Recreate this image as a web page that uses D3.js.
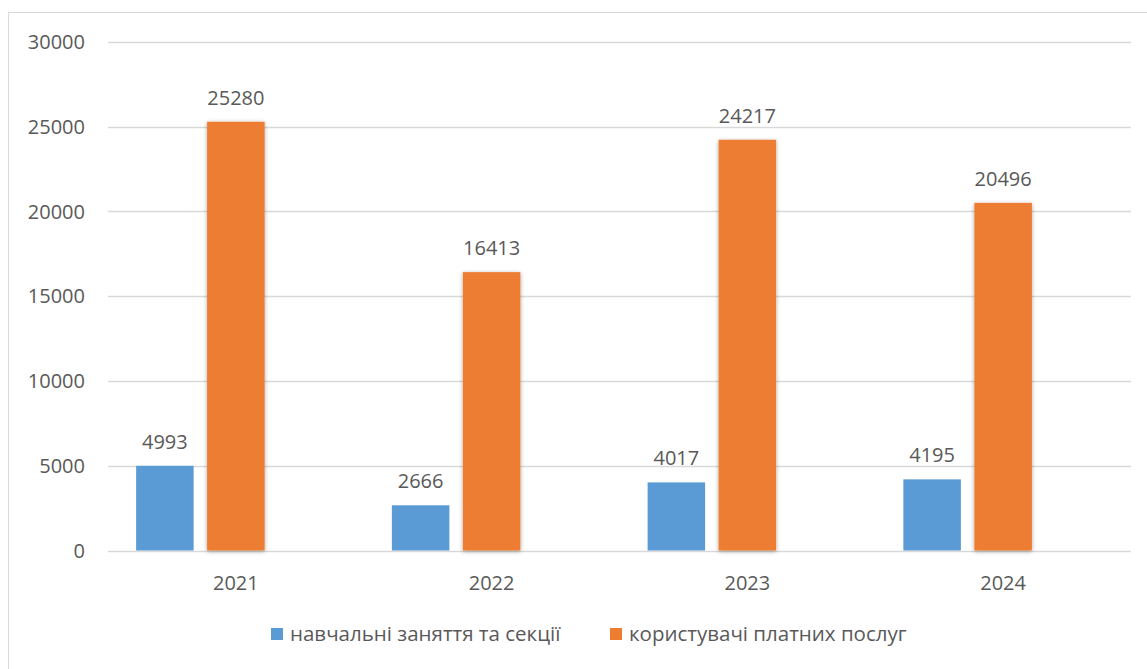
<!DOCTYPE html>
<html><head><meta charset="utf-8">
<script src="https://cdn.jsdelivr.net/npm/d3@7"></script>
<style>body{margin:0;background:#fff}svg{display:block}text{font-family:"Open Sans",sans-serif;fill:#595959}</style>
</head><body><svg id="c" width="1147" height="669"></svg>
<script>
const categories = ["2021","2022","2023","2024"];
const seriesNames = ["навчальні заняття та секції","користувачі платних послуг"];
const studies = [4993,2666,4017,4195];
const paidUsers = [25280,16413,24217,20496];
const yTicks = [0,5000,10000,15000,20000,25000,30000];
const colors = ["#5b9bd5","#ed7d31"];

const svg = d3.select("#c");
const defs = svg.append("defs");
const f = defs.append("filter").attr("id","sh").attr("x","-20%").attr("y","-5%").attr("width","140%").attr("height","110%");
f.append("feGaussianBlur").attr("in","SourceAlpha").attr("stdDeviation",2);
f.append("feOffset").attr("dx",0).attr("dy",1).attr("result","b");
f.append("feComponentTransfer").append("feFuncA").attr("type","linear").attr("slope",0.35);
const m = f.append("feMerge"); m.append("feMergeNode"); m.append("feMergeNode").attr("in","SourceGraphic");

svg.append("rect").attr("x",8.5).attr("y",12.5).attr("width",1145).attr("height",670)
  .attr("fill","none").attr("stroke","#d9d9d9").attr("stroke-width",1);

const x = d3.scaleBand().domain(categories).range([108,1131]).padding(0);
const sub = d3.scaleBand().domain(["a","b","c"]).range([0,x.bandwidth()]).paddingInner(0.19).paddingOuter(0.396);
const y = d3.scaleLinear().domain([0,30000]).range([550.5,41.7]);

svg.append("g").selectAll("line").data(yTicks).join("line")
  .attr("x1",108).attr("x2",1131).attr("y1",d=>Math.round(y(d))+0.5).attr("y2",d=>Math.round(y(d))+0.5)
  .attr("stroke","#d9d9d9").attr("stroke-width",1.5);

svg.append("g").selectAll("text").data(yTicks).join("text")
  .attr("x",85).attr("y",d=>y(d)).attr("dy","0.36em").attr("text-anchor","end")
  .style("font-size","20px").text(d=>d);

const data = [studies, paidUsers];
data.forEach((vals,si)=>{
  const key = ["a","b"][si];
  const g = svg.append("g");
  if(si===1) g.attr("filter","url(#sh)");
  g.selectAll("rect").data(vals).join("rect")
    .attr("x",(d,i)=>x(categories[i])+sub(key)).attr("width",sub.bandwidth())
    .attr("y",d=>y(d)).attr("height",d=>y(0)-y(d)).attr("fill",colors[si]);
  svg.append("g").selectAll("text").data(vals).join("text")
    .attr("x",(d,i)=>x(categories[i])+sub(key)+sub.bandwidth()/2).attr("y",d=>y(d)-17)
    .attr("text-anchor","middle").style("font-size","20px").text(d=>d);
});

svg.append("g").selectAll("text").data(categories).join("text")
  .attr("x",d=>x(d)+x.bandwidth()/2).attr("y",590).attr("text-anchor","middle")
  .style("font-size","20px").text(d=>d);

const legX = [271,610];
seriesNames.forEach((n,i)=>{
  svg.append("rect").attr("x",legX[i]).attr("y",628).attr("width",12).attr("height",12).attr("fill",colors[i]);
  svg.append("text").attr("x",legX[i]+19).attr("y",641).style("font-size","20.5px").text(n);
});
</script></body></html>
